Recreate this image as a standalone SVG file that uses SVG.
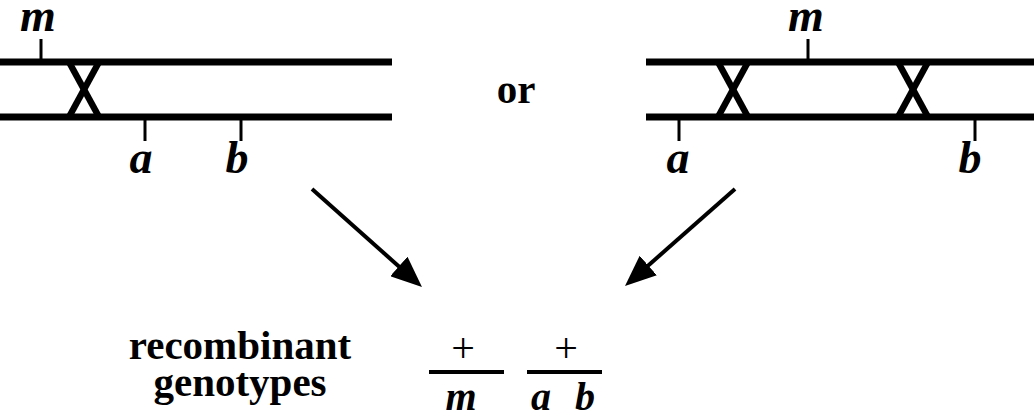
<svg xmlns="http://www.w3.org/2000/svg" width="1034" height="416" viewBox="0 0 1034 416">
<style>
.chr{stroke:#000;stroke-width:7;stroke-linecap:butt;fill:none}
.xo{stroke:#000;stroke-width:6.5;stroke-linecap:butt;fill:none}
.tick{stroke:#000;stroke-width:3;fill:none}
text{font-family:'Liberation Serif','Times New Roman',Times,serif;fill:#000;text-anchor:middle}
.gene{font-weight:bold;font-style:italic;font-size:46px}
.gsm{font-weight:bold;font-style:italic;font-size:40px}
.lbl{font-weight:bold;font-size:41px}
.plus{font-size:42px}
.bar{stroke:#000;stroke-width:4;fill:none}
.arrow{stroke:#000;stroke-width:4;fill:none;marker-end:url(#head)}
</style>
<defs>
<marker id="head" viewBox="0 0 31 26" refX="23" refY="13" markerWidth="31" markerHeight="26" markerUnits="userSpaceOnUse" orient="auto">
<path d="M0,0 L31,13 L0,26 z" fill="#000"/>
</marker>
</defs>
<g id="chromosome-left">
<line class="chr" x1="0" y1="62" x2="392" y2="62"/>
<line class="chr" x1="0" y1="117" x2="392" y2="117"/>
<line class="xo" x1="69" y1="62" x2="99" y2="117"/>
<line class="xo" x1="99" y1="62" x2="69" y2="117"/>
<line class="tick" x1="41" y1="39" x2="41" y2="60"/>
<line class="tick" x1="145" y1="119" x2="145" y2="141"/>
<line class="tick" x1="241" y1="119" x2="241" y2="141"/>
<text class="gene" x="38" y="31" font-family="Liberation Serif, serif">m</text>
<text class="gene" x="141" y="173" font-family="Liberation Serif, serif">a</text>
<text class="gene" x="237" y="173" font-family="Liberation Serif, serif">b</text>
</g>
<g id="label-or">
<text class="lbl" x="516" y="103" font-family="Liberation Serif, serif">or</text>
</g>
<g id="chromosome-right">
<line class="chr" x1="646" y1="62" x2="1034" y2="62"/>
<line class="chr" x1="646" y1="117" x2="1034" y2="117"/>
<line class="xo" x1="718" y1="62" x2="748" y2="117"/>
<line class="xo" x1="748" y1="62" x2="718" y2="117"/>
<line class="xo" x1="898" y1="62" x2="928" y2="117"/>
<line class="xo" x1="928" y1="62" x2="898" y2="117"/>
<line class="tick" x1="808" y1="39" x2="808" y2="60"/>
<line class="tick" x1="679" y1="119" x2="679" y2="141"/>
<line class="tick" x1="975" y1="119" x2="975" y2="141"/>
<text class="gene" x="806" y="31" font-family="Liberation Serif, serif">m</text>
<text class="gene" x="678" y="173" font-family="Liberation Serif, serif">a</text>
<text class="gene" x="970" y="173" font-family="Liberation Serif, serif">b</text>
</g>
<g id="connectors">
<line class="arrow" x1="312" y1="189" x2="416" y2="281.7"/>
<line class="arrow" x1="735" y1="189" x2="631" y2="280.7"/>
</g>
<g id="result">
<text class="lbl" x="240" y="359" font-family="Liberation Serif, serif">recombinant</text>
<text class="lbl" x="240" y="396" font-family="Liberation Serif, serif">genotypes</text>
<text class="plus" x="463" y="362" font-family="Liberation Serif, serif">+</text>
<line class="bar" x1="429" y1="372" x2="504" y2="372"/>
<text class="gsm" x="461" y="410" font-family="Liberation Serif, serif">m</text>
<text class="plus" x="566" y="362" font-family="Liberation Serif, serif">+</text>
<line class="bar" x1="527" y1="372" x2="602" y2="372"/>
<text class="gsm" x="541" y="410" font-family="Liberation Serif, serif">a</text>
<text class="gsm" x="585" y="410" font-family="Liberation Serif, serif">b</text>
</g>
</svg>
